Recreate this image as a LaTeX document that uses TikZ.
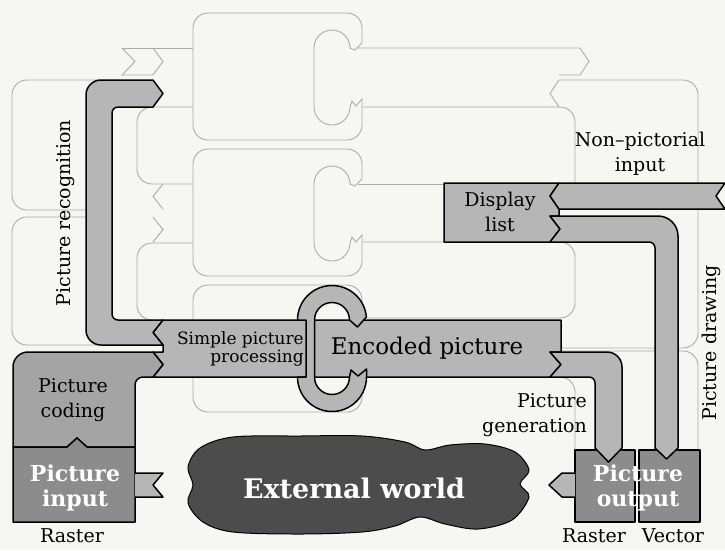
\documentclass[tikz,border=0pt]{standalone}
\usepackage{fontspec}
\setmainfont{DejaVu Serif}
\definecolor{paper}{HTML}{F6F6F3}
\definecolor{ghostline}{HTML}{ABABAB}
\definecolor{pipegray}{HTML}{B6B6B6}
\definecolor{codegray}{HTML}{A4A4A4}
\definecolor{boxgray}{HTML}{8C8C8C}
\definecolor{cloudgray}{HTML}{4C4C4C}

\begin{document}
\begin{tikzpicture}[x=1pt,y=-1pt,
    ghost/.style={draw=ghostline,line width=0.9pt},
    pipe/.style={draw=black,line width=1.5pt,fill=pipegray,line join=round},
    label/.style={font=\fontsize{19}{25}\selectfont,align=center,inner sep=0pt},
    whitelabel/.style={label,font=\bfseries\fontsize{22}{25}\selectfont,text=white}]
    % define the page.
    \useasboundingbox (0,0) rectangle (725,550);
    \fill[paper] (0,0) rectangle (725,550);
    % draw the ghost frames
    \foreach \t in {13,149,285} {
        \begin{scope}[shift={(0,\t)}]
            \draw[ghost] (208,0) -- (347,0) arc[start angle=270,end angle=360,radius=15]
                -- (362,30) -- (355,37) -- (350,35) arc[start angle=360,end angle=180,radius=18]
                -- (314,94) arc[start angle=180,end angle=0,radius=18]
                -- (352,88) -- (356,93) -- (362,86) -- (362,112) arc[start angle=0,end angle=90,radius=15]
                -- (208,127) arc[start angle=90,end angle=180,radius=15]
                -- (193,15) arc[start angle=180,end angle=270,radius=15] -- cycle;
        \end{scope}
    }
    % draw the ghost lines, top row
    \draw[ghost] (122,48) -- (193,48);
    \draw[ghost] (122,48) -- (135,61.5) -- (122,75) -- (153,75);
    \draw[ghost] (153,48) -- (163,61.5) -- (153,75);
    \draw[ghost] (358,48) -- (580,48) -- (589,61.5) -- (580,75) -- (559,75);
    \draw[ghost] (559,80) -- (550,93.5) -- (559,107);
    \draw[ghost] (362,107) -- (560,107) arc[start angle=270,end angle=360,radius=15] -- (575,183);
    \draw[ghost] (559,80) -- (683,80) arc[start angle=270,end angle=360,radius=15]
        -- (698,333) arc[start angle=0,end angle=90,radius=15] -- (561,348);
    \draw[ghost] (561,351) -- (683,351) arc[start angle=270,end angle=360,radius=15] -- (698,450);
    % draw the ghost lines, middle row
    \draw[ghost] (193,107) -- (152,107) arc[start angle=270,end angle=180,radius=15]
        -- (137,169) arc[start angle=180,end angle=90,radius=15] -- (193,184);
    \draw[ghost] (193,243) -- (152,243) arc[start angle=270,end angle=180,radius=15]
        -- (137,305) arc[start angle=180,end angle=90,radius=15] -- (163,320);
    \draw[ghost] (163,184) -- (153,196.5) -- (163,209);
    \draw[ghost] (153,217) -- (163,229.5) -- (153,242);
    \draw[ghost] (358,184) -- (444,184);
    \draw[ghost] (362,242) -- (560,242) arc[start angle=270,end angle=360,radius=15]
        -- (575,303) arc[start angle=0,end angle=90,radius=15] -- (366,318);
    \draw[ghost,rounded corners=15pt] (100,80) -- (12,80) -- (12,210) -- (100,210);
    \draw[ghost,rounded corners=15pt] (100,217) -- (12,217) -- (12,345) -- (100,345);
    % draw the ghost lines, bottom row
    \draw[ghost] (550,377) -- (560,377) arc[start angle=270,end angle=360,radius=15] -- (575,450);

    % draw the external world
    \filldraw[draw=black,fill=cloudgray,line width=1pt] plot[smooth cycle,tension=0.55] coordinates {
        (233,437) (300,436) (362,436) (405,442) (425,450) (450,445) (485,444) (515,452)
        (529,470) (520,484) (529,497) (512,520) (478,529) (445,524) (420,517) (395,526)
        (362,532) (300,534) (233,532) (203,522) (188,503) (193,485) (188,467) (200,448)};

    % draw the main band and the loop
    \filldraw[pipe] (163,320) -- (561,320) -- (561,352) -- (550,352) -- (561,364.5) -- (550,377)
        -- (153,377) -- (163,364.5) -- (153,352) -- (163,352) -- (163,345) -- (153,332.5) -- cycle;
    \filldraw[pipe] (306,377) -- (306,320) -- (297.5,320) arc[start angle=180,end angle=355,radius=34.5]
        -- (357.5,327) -- (349.5,320) arc[start angle=0,end angle=-180,radius=17.5]
        -- (314.5,377) arc[start angle=180,end angle=0,radius=17.5]
        -- (351,370) -- (358,376) -- (366.5,369) -- (366.5,377) arc[start angle=0,end angle=180,radius=34.5] -- cycle;
    % draw the left side
    \filldraw[pipe] (163,320) -- (118,320) arc[start angle=90,end angle=180,radius=6]
        -- (112,113) arc[start angle=180,end angle=270,radius=6]
        -- (153,107) -- (163,93.5) -- (153,80) -- (101,80) arc[start angle=270,end angle=180,radius=15]
        -- (86,330) arc[start angle=180,end angle=90,radius=15] -- (163,345) -- (153,332.5) -- cycle;
    \filldraw[pipe,fill=codegray] (28,352) -- (153,352) -- (163,364.5) -- (153,377)
        -- (143,377) arc[start angle=270,end angle=180,radius=8] -- (135,447)
        -- (87,447) -- (77,438) -- (67,447) -- (13,447)
        -- (13,367) arc[start angle=180,end angle=270,radius=15] -- cycle;
    \filldraw[pipe,fill=boxgray] (13,447) -- (67,447) -- (77,438) -- (87,447) -- (135,447)
        -- (135,522) -- (13,522) -- cycle;
    \filldraw[pipe] (135,473) -- (163,473) -- (153,485) -- (163,497) -- (135,497);
    % draw the right side
    \filldraw[pipe] (444,183) -- (559,183) -- (550,196) -- (559,209) -- (559,216) -- (550,216)
        -- (560,229) -- (550,242) -- (444,242) -- cycle;
    \filldraw[pipe] (559,183) -- (725,183) -- (716,196) -- (725,209) -- (559,209) -- (550,196) -- cycle;
    \filldraw[pipe,fill=boxgray] (575,450) rectangle (635,522);
    \filldraw[pipe,fill=boxgray] (639,450) rectangle (700,522);
    \filldraw[pipe] (575,473) -- (562,473) -- (549,485) -- (562,497) -- (575,497);
    \filldraw[pipe] (550,216) -- (658,216) arc[start angle=270,end angle=360,radius=20]
        -- (678,448) -- (666.5,459) -- (655,448) -- (655,248) arc[start angle=0,end angle=-90,radius=6]
        -- (550,242) -- (560,229) -- cycle;
    \filldraw[pipe] (550,352) -- (607,352) arc[start angle=270,end angle=360,radius=15]
        -- (622,448) -- (608.5,462) -- (595,448) -- (595,383) arc[start angle=0,end angle=-90,radius=6]
        -- (550,377) -- (561,364.5) -- cycle;

    % put the labels
    \node[label,rotate=90] (recog) at (66,213) {Picture recognition};
    \node[label,font=\fontsize{17}{18}\selectfont,align=right,anchor=east] (simple) at (304,349) {Simple picture\\processing};
    \node[label,font=\fontsize{23}{26}\selectfont] (encoded) at (427,348) {Encoded picture};
    \node[label] (coding) at (73,400) {Picture\\coding};
    \node[whitelabel] (input) at (75,488) {Picture\\input};
    \node[label] (rasterin) at (72,536) {Raster};
    \node[label,font=\bfseries\fontsize{27}{30}\selectfont,text=white] (world) at (354,488) {External world};
    \node[label,align=right,anchor=east] (generation) at (587,415) {Picture\\generation};
    \node[whitelabel] (output) at (638,488) {Picture\\output};
    \node[label] (rasterout) at (594,536) {Raster};
    \node[label] (vector) at (673,536) {Vector};
    \node[label] (nonpict) at (640,154) {Non--pictorial\\input};
    \node[label] (display) at (500,212) {Display\\list};
    \node[label,rotate=90] (drawing) at (711,343) {Picture drawing};
\end{tikzpicture}
\end{document}
